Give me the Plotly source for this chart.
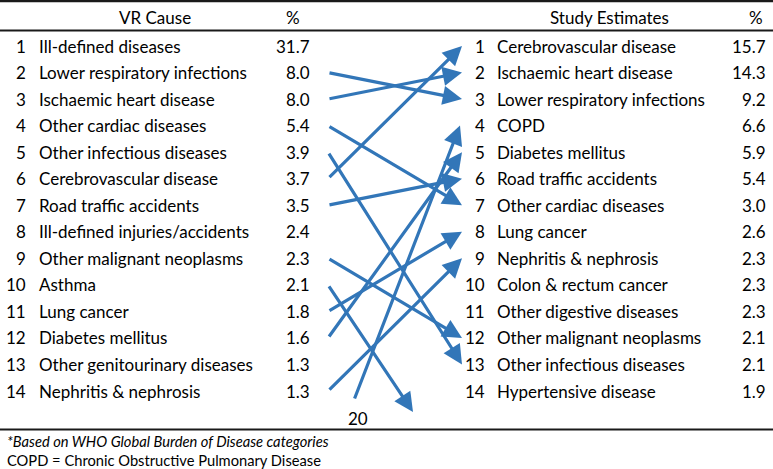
import plotly.graph_objects as go

# ---------------- data ----------------
vr_causes = [
    "Ill-defined diseases", "Lower respiratory infections", "Ischaemic heart disease",
    "Other cardiac diseases", "Other infectious diseases", "Cerebrovascular disease",
    "Road traffic accidents", "Ill-defined injuries/accidents", "Other malignant neoplasms",
    "Asthma", "Lung cancer", "Diabetes mellitus", "Other genitourinary diseases",
    "Nephritis & nephrosis",
]
vr_pct = [31.7, 8.0, 8.0, 5.4, 3.9, 3.7, 3.5, 2.4, 2.3, 2.1, 1.8, 1.6, 1.3, 1.3]

study_causes = [
    "Cerebrovascular disease", "Ischaemic heart disease", "Lower respiratory infections",
    "COPD", "Diabetes mellitus", "Road traffic accidents", "Other cardiac diseases",
    "Lung cancer", "Nephritis & nephrosis", "Colon & rectum cancer",
    "Other digestive diseases", "Other malignant neoplasms", "Other infectious diseases",
    "Hypertensive disease",
]
study_pct = [15.7, 14.3, 9.2, 6.6, 5.9, 5.4, 3.0, 2.6, 2.3, 2.3, 2.3, 2.1, 2.1, 1.9]

# causes outside the top 14 on one side
study_from_outside = {"COPD": 20}          # VR rank of a study cause not in the VR top 14
vr_dropped = ["Asthma"]                    # VR causes that fall below the study top 14

header_left = ["VR Cause", "%"]
header_right = ["Study Estimates", "%"]
footnotes = ["*Based on WHO Global Burden of Disease categories",
             "COPD = Chronic Obstructive Pulmonary Disease"]

# ---------------- layout constants ----------------
W, H = 773, 469
ROW1_PX, ROW_H = 46.0, 26.54
FONT = "Lato"
FS = 17
TXT = "#000000"
BLUE = "#3276B8"
n = len(vr_causes)

def px_to_rank(px):
    return 1 + (px - ROW1_PX) / ROW_H

fig = go.Figure()
fig.add_trace(go.Scatter(x=[0], y=[1], mode="markers", marker=dict(opacity=0),
                         hoverinfo="skip", showlegend=False))

ann = []
def txt(x, y, s, anchor, size=FS, italic=False):
    ann.append(dict(x=x, y=y, xref="x", yref="y", text=("<i>%s</i>" % s) if italic else s,
                    showarrow=False, xanchor=anchor, yanchor="middle",
                    font=dict(family=FONT, size=size, color=TXT)))

# headers
hy = px_to_rank(17)
txt(155, hy, header_left[0], "center")
txt(293, hy, header_left[1], "center")
txt(609, hy, header_right[0], "center")
txt(756, hy, header_right[1], "center")

# rows
for i in range(n):
    r = i + 1
    txt(28, r, str(r), "right")
    txt(37, r, vr_causes[i], "left")
    txt(312, r, "%.1f" % vr_pct[i], "right")
for i in range(len(study_causes)):
    r = i + 1
    txt(487, r, str(r), "right")
    txt(495, r, study_causes[i], "left")
    txt(768, r, "%.1f" % study_pct[i], "right")

# arrows
X_TAIL, X_HEAD = 328, 462
def arrow(x0, y0, x1, y1):
    ann.append(dict(x=x1, y=y1, ax=x0, ay=y0, xref="x", yref="y", axref="x", ayref="y",
                    text="", showarrow=True, arrowhead=2, arrowsize=1.2, arrowwidth=3.2,
                    arrowcolor=BLUE, standoff=0, startstandoff=0))

for i, c in enumerate(vr_causes):
    if c in study_causes:
        arrow(X_TAIL, i + 1, X_HEAD, study_causes.index(c) + 1)
    elif c in vr_dropped:
        arrow(X_TAIL, i + 1, 413, px_to_rank(412))

for c, vr_r in study_from_outside.items():
    txt(358, px_to_rank(418), str(vr_r), "center")
    arrow(354, px_to_rank(400), X_HEAD - 2, study_causes.index(c) + 1)

# footnotes
txt(5, px_to_rank(441), footnotes[0], "left", size=14.7, italic=True)
txt(5, px_to_rank(460), footnotes[1], "left", size=14.7)

shapes = []
for ypx, w in [(1, 2.4), (30.5, 2), (429.5, 2)]:
    shapes.append(dict(type="line", xref="x", yref="y", x0=0, x1=W,
                       y0=px_to_rank(ypx), y1=px_to_rank(ypx), layer="above",
                       line=dict(color="#1a1a1a", width=w)))

fig.update_layout(
    width=W, height=H, margin=dict(l=0, r=0, t=0, b=0),
    paper_bgcolor="white", plot_bgcolor="white",
    xaxis=dict(range=[0, W], visible=False, fixedrange=True),
    yaxis=dict(range=[px_to_rank(H), px_to_rank(0)], visible=False, fixedrange=True),
    annotations=ann, shapes=shapes, showlegend=False,
)
fig.write_html("out.html", config={"displayModeBar": False},
               post_script="document.body.style.margin='0';document.body.style.overflow='hidden';")
